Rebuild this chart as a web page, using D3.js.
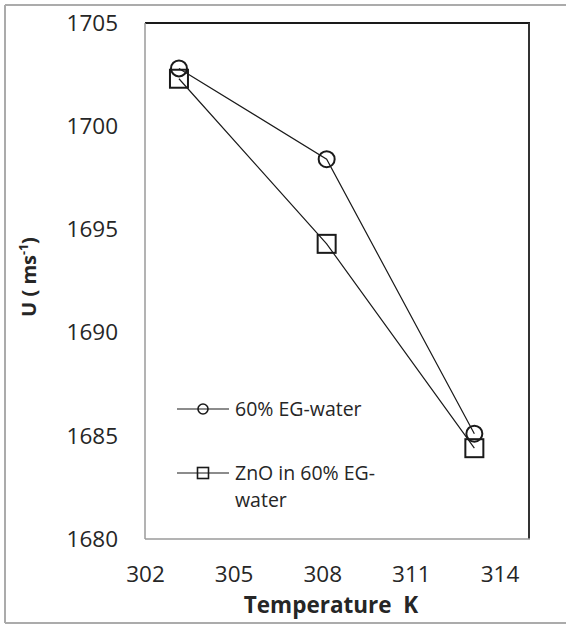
<!DOCTYPE html>
<html>
<head>
<meta charset="utf-8">
<script src="https://cdn.jsdelivr.net/npm/d3@7"></script>
<style>
  html, body { margin: 0; padding: 0; background: #fff; }
  svg { display: block; font-family: "Open Sans", "Noto Sans", sans-serif; }
</style>
</head>
<body>
<svg id="chart" width="566" height="624"></svg>
<script>
// Temperatures (K) at which the speed of sound was measured
const temperatures = [303.15, 308.15, 313.15];
// Ultrasonic velocity U (m/s)
const baseFluid = [1702.8, 1698.4, 1685.1];      // 60% EG-water
const nanofluid = [1702.3, 1694.3, 1684.4];      // ZnO in 60% EG-water
const xTicks = [302, 305, 308, 311, 314];
const yTicks = [1680, 1685, 1690, 1695, 1700, 1705];
const seriesNames = ["60% EG-water", ["ZnO in 60% EG-", "water"]];

const svg = d3.select("#chart");
const W = 566, H = 624;
const plot = { left: 145, right: 529, top: 23, bottom: 539 };

const x = d3.scaleLinear().domain([302, 315]).range([plot.left, plot.right]);
const y = d3.scaleLinear().domain([1680, 1705]).range([plot.bottom, plot.top]);

// outer chart frame (left, top, bottom edges)
const frame = svg.append("g").attr("stroke", "#ababab").attr("stroke-width", 2).attr("fill", "none");
frame.append("line").attr("x1", 5).attr("x2", W).attr("y1", 5).attr("y2", 5);
frame.append("line").attr("x1", 5).attr("x2", 5).attr("y1", 5).attr("y2", 623);
frame.append("line").attr("x1", 5).attr("x2", W).attr("y1", 623).attr("y2", 623);

// plot area box
const box = svg.append("g").attr("fill", "none");
box.append("line").attr("x1", plot.left).attr("x2", plot.right + 1).attr("y1", plot.top).attr("y2", plot.top)
  .attr("stroke", "#1a1a1a").attr("stroke-width", 2);
box.append("line").attr("x1", plot.right).attr("x2", plot.right).attr("y1", plot.top).attr("y2", plot.bottom)
  .attr("stroke", "#333").attr("stroke-width", 2);
box.append("line").attr("x1", plot.left).attr("x2", plot.left).attr("y1", plot.top).attr("y2", plot.bottom)
  .attr("stroke", "#9a9a9a").attr("stroke-width", 1.5);
box.append("line").attr("x1", plot.left).attr("x2", plot.right + 1).attr("y1", plot.bottom).attr("y2", plot.bottom)
  .attr("stroke", "#9a9a9a").attr("stroke-width", 1.5);

// axes (labels only)
const xAxis = svg.append("g")
  .attr("transform", `translate(0,${plot.bottom})`)
  .call(d3.axisBottom(x).tickValues(xTicks).tickSize(0).tickPadding(27).tickFormat(d3.format("d")));
const yAxis = svg.append("g")
  .attr("transform", `translate(${plot.left},0)`)
  .call(d3.axisLeft(y).tickValues(yTicks).tickSize(0).tickPadding(27).tickFormat(d3.format("d")));
[xAxis, yAxis].forEach(a => {
  a.select(".domain").remove();
  a.selectAll("text").attr("font-size", 22.5).attr("fill", "#262626")
    .attr("font-family", "'Open Sans', sans-serif");
});

// axis titles
svg.append("text")
  .attr("x", 331).attr("y", 613)
  .attr("text-anchor", "middle")
  .attr("font-size", 22.5).attr("font-weight", "bold").attr("fill", "#262626")
  .attr("xml:space", "preserve")
  .text("Temperature  K");

const yTitle = svg.append("text")
  .attr("transform", `translate(36,${277}) rotate(-90)`)
  .attr("text-anchor", "middle")
  .attr("font-size", 20).attr("font-weight", "bold").attr("fill", "#262626");
yTitle.append("tspan").text("U ( ms");
yTitle.append("tspan").attr("font-size", 12.5).attr("dy", -8).text("-1");
yTitle.append("tspan").attr("dy", 8).text(")");

// series
const line = d3.line().x(d => x(d[0])).y(d => y(d[1]));
const s1 = temperatures.map((t, i) => [t, baseFluid[i]]);
const s2 = temperatures.map((t, i) => [t, nanofluid[i]]);

svg.append("path").datum(s1).attr("d", line)
  .attr("fill", "none").attr("stroke", "#1a1a1a").attr("stroke-width", 1.2);
svg.append("path").datum(s2).attr("d", line)
  .attr("fill", "none").attr("stroke", "#1a1a1a").attr("stroke-width", 1.2);

const sq = 18;
svg.append("g").selectAll("rect").data(s2).join("rect")
  .attr("x", d => x(d[0]) - sq / 2).attr("y", d => y(d[1]) - sq / 2)
  .attr("width", sq).attr("height", sq)
  .attr("fill", "none").attr("stroke", "#1a1a1a").attr("stroke-width", 2);
svg.append("g").selectAll("circle").data(s1).join("circle")
  .attr("cx", d => x(d[0])).attr("cy", d => y(d[1])).attr("r", 8)
  .attr("fill", "none").attr("stroke", "#1a1a1a").attr("stroke-width", 2);

// legend
const leg = svg.append("g");
const legY = [409, 473];
legY.forEach(ly => {
  leg.append("line").attr("x1", 177).attr("x2", 229).attr("y1", ly).attr("y2", ly)
    .attr("stroke", "#1a1a1a").attr("stroke-width", 1.2);
});
leg.append("circle").attr("cx", 203).attr("cy", legY[0]).attr("r", 5)
  .attr("fill", "none").attr("stroke", "#1a1a1a").attr("stroke-width", 1.6);
leg.append("rect").attr("x", 203 - 5.5).attr("y", legY[1] - 5.5).attr("width", 11).attr("height", 11)
  .attr("fill", "none").attr("stroke", "#1a1a1a").attr("stroke-width", 1.6);

leg.append("text").attr("x", 235).attr("y", legY[0] + 7)
  .attr("font-size", 19.5).attr("fill", "#262626").text(seriesNames[0]);
const t2 = leg.append("text").attr("x", 235).attr("y", legY[1] + 7)
  .attr("font-size", 19.5).attr("fill", "#262626");
t2.append("tspan").attr("x", 235).text(seriesNames[1][0]);
t2.append("tspan").attr("x", 235).attr("dy", 27).text(seriesNames[1][1]);
</script>
</body>
</html>
